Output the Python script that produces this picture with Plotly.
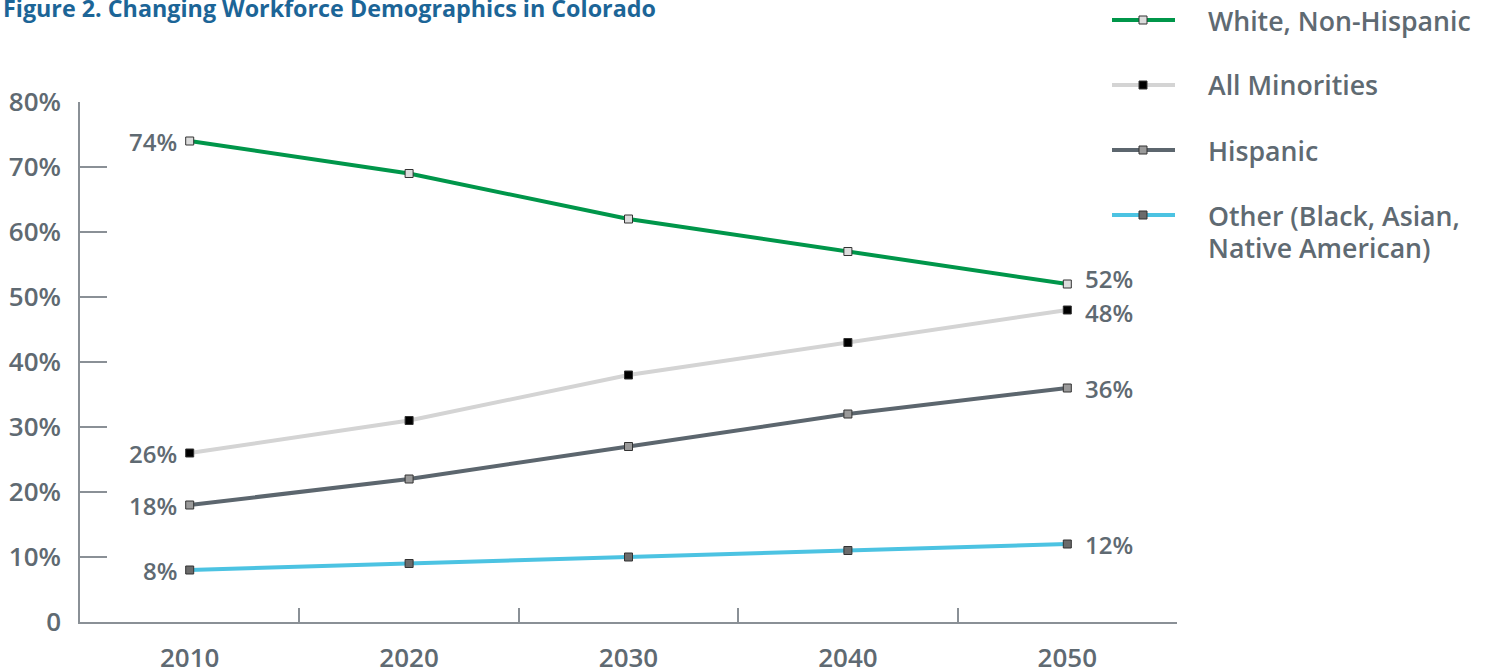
import plotly.graph_objects as go

years = ["2010", "2020", "2030", "2040", "2050"]
white = [74, 69, 62, 57, 52]
minorities = [26, 31, 38, 43, 48]
hispanic = [18, 22, 27, 32, 36]
other = [8, 9, 10, 11, 12]

series_names = ["White, Non-Hispanic", "All Minorities", "Hispanic",
                "Other (Black, Asian,<br>Native American)"]
series_vals = [white, minorities, hispanic, other]
line_colors = ["#00964a", "#d4d4d4", "#5c666e", "#4cc3e2"]
marker_fill = ["#dcdcdc", "#000000", "#9a9a9a", "#6b6b6b"]
end_label_shift = [6, -2, 0, 0]

ytickvals = [0, 10, 20, 30, 40, 50, 60, 70, 80]
yticktext = ["0", "10%", "20%", "30%", "40%", "50%", "60%", "70%", "80%"]

GRAY = "#5f6a72"
AXIS = "#8a9096"
FONT = "Open Sans"

fig = go.Figure()
for name, vals, lc, mf, sh in zip(series_names, series_vals, line_colors,
                                  marker_fill, end_label_shift):
    fig.add_trace(go.Scatter(
        x=years, y=vals, mode="lines+markers", name=name,
        line=dict(color=lc, width=4),
        marker=dict(symbol="square", size=8, color=mf,
                    line=dict(color="#333333", width=1)),
        showlegend=False,
    ))
    # category axis annotations use category index
    fig.add_annotation(x=0, y=vals[0], xref="x", yref="y",
                       text=f"{vals[0]}%", showarrow=False, xanchor="right",
                       xshift=-11, font=dict(family=FONT, size=24, color=GRAY, weight=600))
    fig.add_annotation(x=len(years) - 1, y=vals[-1], xref="x", yref="y",
                       text=f"{vals[-1]}%", showarrow=False, xanchor="left",
                       xshift=16, yshift=sh,
                       font=dict(family=FONT, size=24, color=GRAY, weight=600))

W, H = 1490, 672
ml, mr, mt, mb = 80, 313, 102, 50
pw, ph = W - ml - mr, H - mt - mb

def px(x):
    return (x - ml) / pw

def py(y):
    return 1 - (y - mt) / ph

legend_rows = [20, 85, 150, 215]
for name, lc, mf, yy in zip(series_names, line_colors, marker_fill, legend_rows):
    fig.add_shape(type="line", xref="paper", yref="paper",
                  x0=px(1112), x1=px(1175), y0=py(yy), y1=py(yy),
                  line=dict(color=lc, width=4))
    fig.add_shape(type="rect", xref="paper", yref="paper",
                  x0=px(1139), x1=px(1147), y0=py(yy - 4), y1=py(yy + 4),
                  fillcolor=mf, line=dict(color="#333333", width=1))
    for i, part in enumerate(name.split("<br>")):
        fig.add_annotation(x=px(1206), y=py(yy + 32 * i), xref="paper", yref="paper",
                           text=part, showarrow=False, xanchor="left",
                           yanchor="middle", align="left",
                           font=dict(family=FONT, size=26.7, color=GRAY, weight=600))

fig.add_annotation(x=px(1), y=py(8), xref="paper", yref="paper",
                   text="Figure 2. Changing Workforce Demographics in Colorado",
                   showarrow=False, xanchor="left", yanchor="middle",
                   font=dict(family=FONT, size=23.3, color="#1c6597", weight=700))

fig.update_layout(
    width=W, height=H,
    margin=dict(l=ml, r=mr, t=mt, b=mb, autoexpand=False),
    plot_bgcolor="white", paper_bgcolor="white",
    xaxis=dict(type="category", range=[-0.5, 4.5], showgrid=False,
               automargin=False,
               showline=True, linecolor=AXIS, linewidth=1.5,
               ticks="inside", tickson="boundaries", ticklen=14,
               tickcolor=AXIS, tickwidth=1.5, ticklabelstandoff=12,
               tickfont=dict(family=FONT, size=26, color=GRAY, weight=600),
               zeroline=False),
    yaxis=dict(range=[0, 80], showgrid=False, zeroline=False,
               automargin=False,
               showline=True, linecolor=AXIS, linewidth=1.5,
               tickvals=ytickvals, ticktext=yticktext,
               ticks="inside", ticklen=27, tickcolor=AXIS, tickwidth=1.5,
               ticklabelstandoff=12,
               tickfont=dict(family=FONT, size=26, color=GRAY, weight=600)),
)

fig.write_html("out.html", config={"displayModeBar": False},
               post_script="document.body.style.margin='0';")
